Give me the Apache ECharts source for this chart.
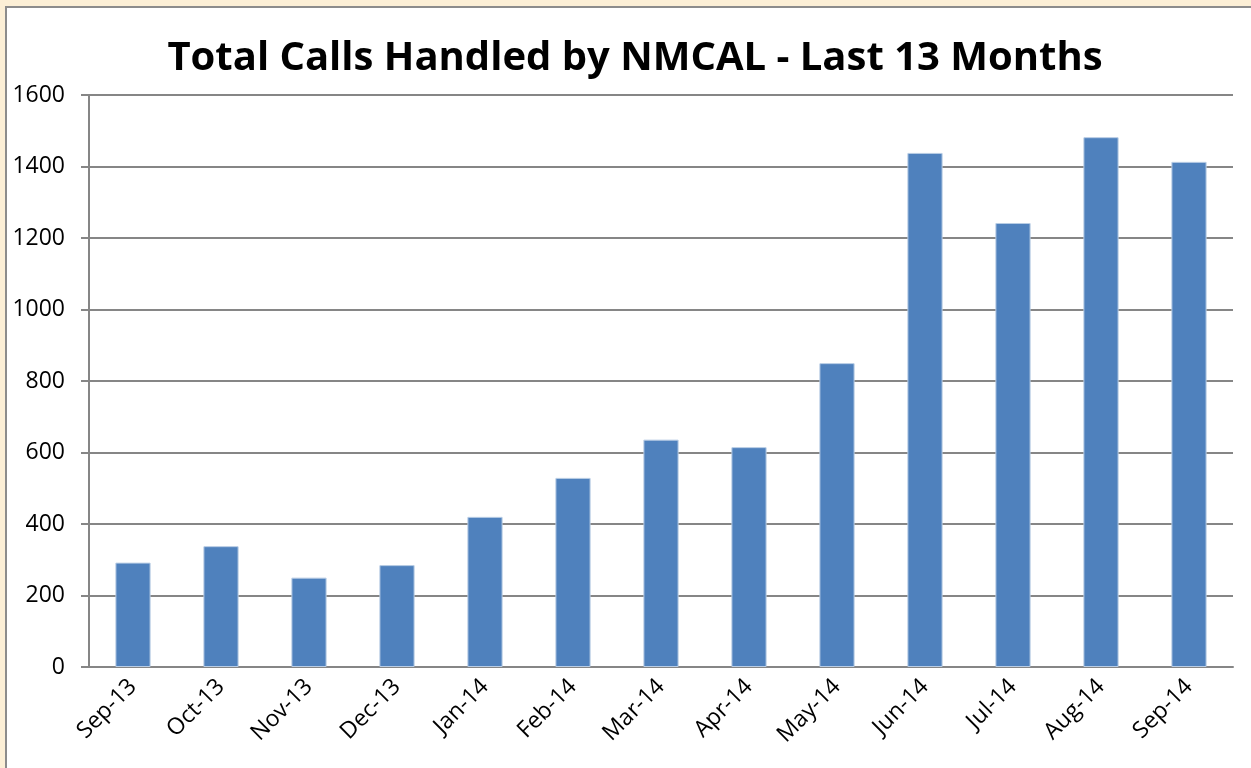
<!DOCTYPE html>
<html lang="en">
<head>
    <meta charset="UTF-8">
    <title>Total Calls Handled by NMCAL</title>
    <script src="https://cdn.jsdelivr.net/npm/echarts@6/dist/echarts.min.js"></script>
    <style>
        html, body { margin: 0; padding: 0; }
        body { width: 1251px; height: 768px; background: #fcefd6; overflow: hidden; position: relative; }
        #frame {
            position: absolute; left: 5px; top: 6px; width: 1260px; height: 780px;
            background: #fff; border: 2px solid #8c8c8c; box-sizing: border-box;
        }
        #charts { position: absolute; left: 0; top: 0; width: 1251px; height: 768px; }
    </style>
</head>
<body>
<div id="frame"></div>
<div id="charts"></div>

<script>
    // months along the x axis
    var months = ['Sep-13', 'Oct-13', 'Nov-13', 'Dec-13', 'Jan-14', 'Feb-14', 'Mar-14',
                  'Apr-14', 'May-14', 'Jun-14', 'Jul-14', 'Aug-14', 'Sep-14'];
    // calls handled each month
    var calls = [292, 338, 250, 285, 420, 529, 636, 615, 850, 1438, 1242, 1482, 1413];
    var yTicks = [0, 200, 400, 600, 800, 1000, 1200, 1400, 1600];

    var myChart = echarts.init(document.getElementById('charts'));

    myChart.setOption({
        animation: false,
        title: {
            text: 'Total Calls Handled by NMCAL - Last 13 Months',
            left: 630,
            textAlign: 'center',
            top: 34,
            textStyle: { fontFamily: 'Open Sans', fontWeight: 'bold', fontSize: 40, color: '#000' }
        },
        grid: { left: 89, right: 18, top: 95, bottom: 101 },
        xAxis: {
            type: 'category',
            data: months,
            axisLine: { lineStyle: { color: '#868686', width: 2 } },
            axisTick: { length: 8, lineStyle: { color: '#868686', width: 2 } },
            axisLabel: { rotate: 45, fontFamily: 'Open Sans', fontSize: 23, color: '#000', margin: 16 }
        },
        yAxis: {
            type: 'value',
            min: yTicks[0],
            max: yTicks[yTicks.length - 1],
            interval: 200,
            axisLine: { show: true, lineStyle: { color: '#868686', width: 2 } },
            axisTick: { show: true, length: 8, lineStyle: { color: '#868686', width: 2 } },
            splitLine: { lineStyle: { color: '#868686', width: 2 } },
            axisLabel: {
                fontFamily: 'Open Sans', fontSize: 23, color: '#000', margin: 24,
                formatter: function (v) { return String(v); }
            }
        },
        series: [{
            type: 'bar',
            data: calls,
            barWidth: '40%',
            itemStyle: { color: '#4f81bd', borderColor: '#b9cde5', borderWidth: 1 }
        }]
    });
</script>
</body>
</html>
